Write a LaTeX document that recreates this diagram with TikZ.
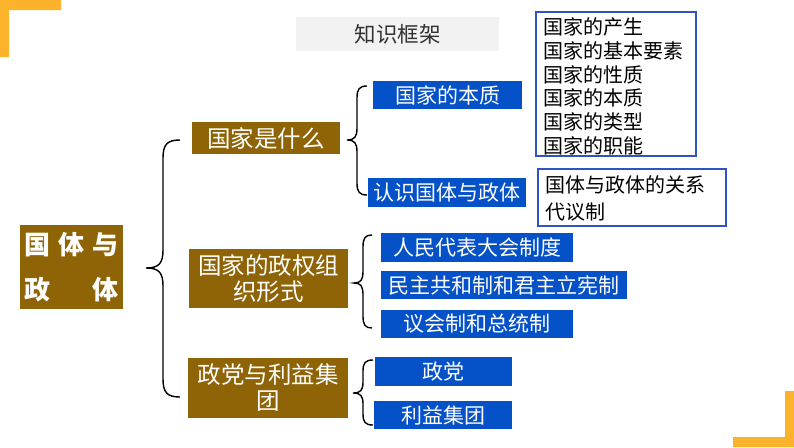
\documentclass[tikz,border=0pt]{standalone}
\usepackage{fontspec}
\setmainfont{Noto Sans CJK SC}
\usetikzlibrary{calc}
\definecolor{brownc}{RGB}{143,100,6}
\definecolor{bluec}{RGB}{5,82,200}
\definecolor{borderc}{RGB}{47,84,190}
\definecolor{orangec}{RGB}{252,178,42}
\definecolor{grayc}{RGB}{242,242,242}
\definecolor{titlec}{RGB}{50,50,50}
\tikzset{
  brownbox/.style={fill=brownc, text=white, inner sep=0pt, align=center, font=\fontsize{23.5}{26}\selectfont},
  bluebox/.style={fill=bluec, text=white, inner sep=0pt, font=\fontsize{21}{24}\selectfont},
  listbox/.style={draw=borderc, line width=1.5pt, inner sep=0pt, anchor=north west},
  listtext/.style={inner sep=0pt, anchor=base west, text=black, font=\fontsize{20}{23.8}\selectfont},
  bracel/.style={line width=1.4pt, black},
  cornerfill/.style={fill=orangec, draw=none},
}
\newcommand\cbrace[5]{% #1 top, #2 tip, #3 bottom, #4 half width, #5 corner
  \draw[bracel] (#1) .. controls +(-0.75*#4,0) and +(0,-0.75*#5) .. ($(#1)+(-#4,#5)$)
    -- ($(#2)+(#4,-#5)$) .. controls +(0,0.75*#5) and +(0.75*#4,0) .. (#2)
    .. controls +(0.75*#4,0) and +(0,-0.75*#5) .. ($(#2)+(#4,#5)$)
    -- ($(#3)+(-#4,-#5)$) .. controls +(0,0.75*#5) and +(-0.75*#4,0) .. (#3);}
\begin{document}
\begin{tikzpicture}[x=1pt,y=-1pt]
\useasboundingbox (0,0) rectangle (794,447);
% orange corners
\fill[cornerfill] (0,0) -- (61,0) -- (61,10) -- (9,10) -- (9,57) -- (0,57) -- cycle;
\fill[cornerfill] (794,447) -- (733,447) -- (733,437) -- (785,437) -- (785,391) -- (794,391) -- cycle;
% title
\node[fill=grayc, minimum width=203pt, minimum height=34pt, inner sep=0pt, text=titlec,
      font=\fontsize{21.5}{24}\selectfont] (title) at (397.5,34) {知识框架};
% main node
\node[brownbox, minimum width=103pt, minimum height=84pt, font=\bfseries\fontsize{26}{45}\selectfont]
  (main) at (71.5,267) {\hbox to 95pt{国\hfill 体\hfill 与}\\\hbox to 95pt{政\hfill 体}};
% level 1
\node[brownbox, minimum width=148pt, minimum height=32pt] (q1) at (266,138) {国家是什么};
\node[brownbox, minimum width=159pt, minimum height=59pt] (q2) at (268.5,278.5) {国家的政权组\\织形式};
\node[brownbox, minimum width=160pt, minimum height=60pt] (q3) at (268,388) {政党与利益集\\团};
% level 2
\node[bluebox, minimum width=149pt, minimum height=28pt] (b1) at (447.5,95) {国家的本质};
\node[bluebox, minimum width=158pt, minimum height=29pt] (b2) at (447,192.5) {认识国体与政体};
\node[bluebox, minimum width=192pt, minimum height=29pt] (b3) at (477,247.5) {人民代表大会制度};
\node[bluebox, minimum width=246pt, minimum height=28pt] (b4) at (504,285) {民主共和制和君主立宪制};
\node[bluebox, minimum width=192pt, minimum height=28pt] (b5) at (477,324) {议会制和总统制};
\node[bluebox, minimum width=137pt, minimum height=29pt] (b6) at (443.5,371.5) {政党};
\node[bluebox, minimum width=138pt, minimum height=28pt] (b7) at (443,415) {利益集团};
% list boxes
\node[listbox, minimum width=160pt, minimum height=144pt] (lb1) at (535,11) {};
\foreach \t [count=\i from 0] in {国家的产生,国家的基本要素,国家的性质,国家的本质,国家的类型,国家的职能}
  \node[listtext] (la\i) at (543,34.4+23.8*\i) {\t};
\node[listbox, minimum width=188pt, minimum height=57pt] (lb2) at (537,168) {};
\node[listtext] (lc0) at (545,192.4) {国体与政体的关系};
\node[listtext] (lc1) at (545,219.4) {代议制};
% braces
\coordinate (B1t) at (180,140); \coordinate (B1m) at (146,268); \coordinate (B1b) at (180,397);
\coordinate (B2t) at (367,86);  \coordinate (B2m) at (347,140); \coordinate (B2b) at (367,195);
\coordinate (B3t) at (372,235); \coordinate (B3m) at (354,283); \coordinate (B3b) at (372,328);
\coordinate (B4t) at (373,360); \coordinate (B4m) at (353,393); \coordinate (B4b) at (373,425);
\cbrace{B1t}{B1m}{B1b}{17}{18}
\cbrace{B2t}{B2m}{B2b}{10}{12}
\cbrace{B3t}{B3m}{B3b}{9}{12}
\cbrace{B4t}{B4m}{B4b}{10}{11}
\end{tikzpicture}
\end{document}
